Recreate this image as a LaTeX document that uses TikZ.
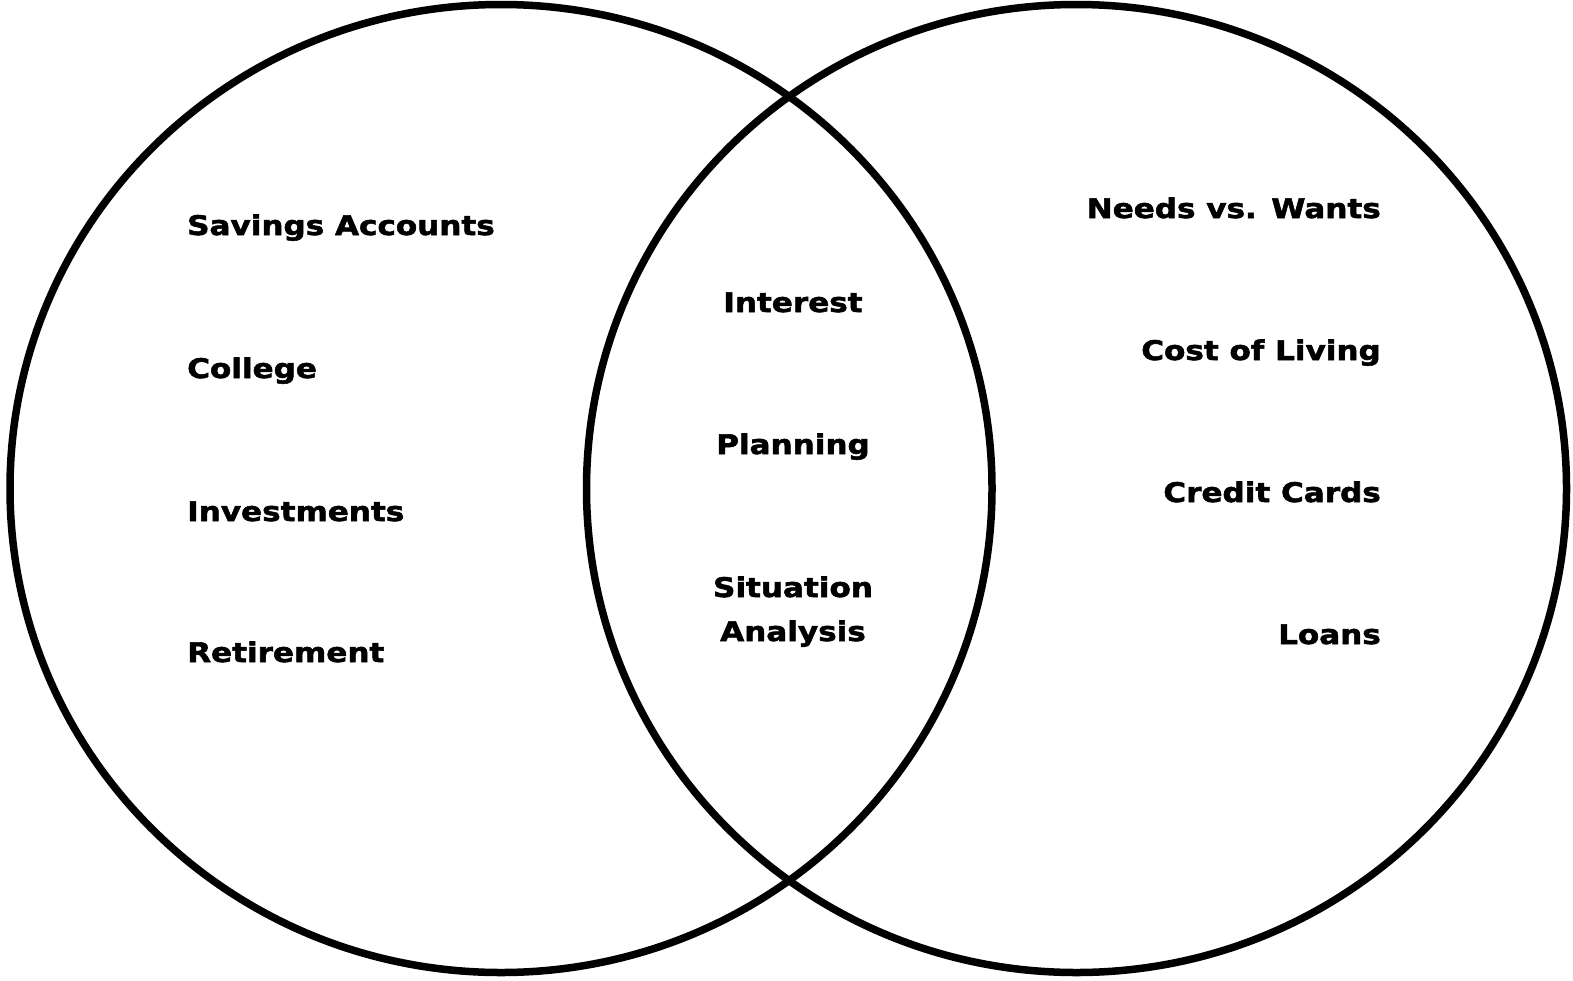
\documentclass[tikz,border=0pt]{standalone}
\usepackage{fontspec}
\setmainfont{DejaVu Sans}
\newfontfamily\vfont{DejaVu Sans}[FakeStretch=1.15,FakeBold=2]
\begin{document}
\begin{tikzpicture}[x=1pt,y=-1pt,
  ring/.style={draw=black,line width=7.5pt},
  lbl/.style={font=\vfont\fontsize{27}{44}\selectfont\bfseries,inner sep=0pt,text=black}]
\useasboundingbox (0,0) rectangle (1573,980);
\fill[white] (0,0) rectangle (1573,980);
\draw[ring] (501,488.5) ellipse[x radius=491pt,y radius=484pt];
\draw[ring] (1076.5,488.5) ellipse[x radius=490pt,y radius=484pt];
% left
\node[lbl,anchor=base west] (sa) at (187,235) {Savings Accounts};
\node[lbl,anchor=base west] (co) at (187,378) {College};
\node[lbl,anchor=base west] (in) at (187,521) {Investments};
\node[lbl,anchor=base west] (re) at (187,662) {Retirement};
% middle
\node[lbl,anchor=base] (it) at (793,312) {Interest};
\node[lbl,anchor=base] (pl) at (793,454) {Planning};
\node[lbl,anchor=base] (si) at (793,597) {Situation};
\node[lbl,anchor=base] (an) at (793,641) {Analysis};
% right
\node[lbl,anchor=base east] (nw) at (1381,218) {Needs vs. Wants};
\node[lbl,anchor=base east] (cl) at (1381,360) {Cost of Living};
\node[lbl,anchor=base east] (cc) at (1381,502) {Credit Cards};
\node[lbl,anchor=base east] (lo) at (1381,644) {Loans};
\end{tikzpicture}
\end{document}
